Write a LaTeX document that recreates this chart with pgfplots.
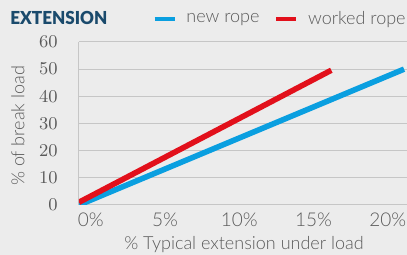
\documentclass[border=0pt]{standalone}
\usepackage{pgfplots}
\pgfplotsset{compat=1.18}
\usepackage{fontspec}
\setmainfont{Lato}[UprightFont=* Light, BoldFont=* Black]
\definecolor{bg}{HTML}{ECECEC}
\definecolor{txt}{HTML}{5A5A5A}
\definecolor{gridc}{HTML}{C6C6C6}
\definecolor{ropeblue}{HTML}{0A9FE0}
\definecolor{ropered}{HTML}{E2101B}
\definecolor{titleblue}{HTML}{1A4A6C}
\begin{document}
\begin{tikzpicture}[x=1pt,y=1pt]
\useasboundingbox (0,0) rectangle (203.5,127.5);
\fill[bg] (0,0) rectangle (203.5,127.5);
\node[anchor=base west, inner sep=0pt, text=titleblue] at (5,115) {\resizebox{48.5pt}{6.6pt}{\bfseries EXTENSION}};
\begin{axis}[
  at={(39.5pt,25pt)}, anchor=south west,
  scale only axis, width=164pt, height=81.5pt,
  xmin=-0.8, xmax=21.3, ymin=0, ymax=60,
  xtick={0,5,10,15,20}, xticklabels={0\%,5\%,10\%,15\%,20\%},
  ytick={0,10,20,30,40,50,60},
  ymajorgrids, grid style={gridc, line width=0.5pt},
  axis x line*=bottom, axis y line*=left,
  axis line style={gridc, line width=0.5pt, -},
  major tick length=0pt, tick style={draw=none},
  ticklabel style={font=\fontsize{9.5}{10}\selectfont, text=txt},
  yticklabel style={anchor=east, inner sep=0pt, xshift=-10.5pt},
  xticklabel style={anchor=north, inner sep=0pt, yshift=-4pt},
  xlabel={\% Typical extension under load},
  ylabel={\% of break load},
  label style={font=\fontsize{9}{10}\selectfont, text=txt},
  xlabel style={at={(axis description cs:0.503,-0.276)}, anchor=base, inner sep=0pt},
  ylabel style={at={(axis description cs:-0.186,0.485)}, anchor=center, inner sep=0pt},
  legend columns=2,
  legend style={at={(axis description cs:0.225,1.141)}, anchor=west, draw=none, fill=none,
    font=\fontsize{9}{10}\selectfont, text=txt, inner sep=0pt, outer sep=0pt,
    nodes={inner sep=0pt},
    /tikz/every odd column/.append style={column sep=5pt},
    /tikz/every even column/.append style={column sep=7.5pt}},
  legend image code/.code={\draw[line width=1.8pt] (0pt,0pt) -- (10pt,0pt);},
]
\addplot[ropeblue, line width=2.8pt] coordinates {(-0.8,0) (21.1,50)};
\addlegendentry{new rope}
\addplot[ropered, line width=2.8pt] coordinates {(-0.8,1) (16.2,49.6)};
\addlegendentry{worked rope}
\end{axis}
\end{tikzpicture}
\end{document}
